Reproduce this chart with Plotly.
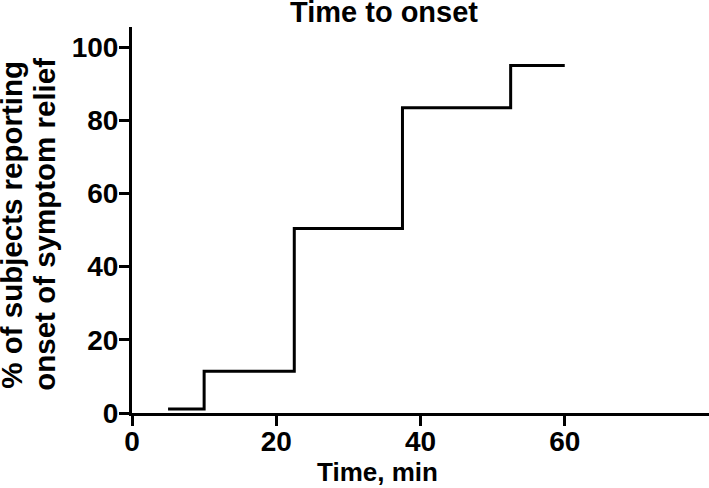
import plotly.graph_objs as go

# time to onset, step curve (min vs % of subjects)
time_min = [5, 10, 22.5, 37.5, 52.5, 60]
pct_subjects = [1.1, 11.4, 50.4, 83.4, 95.0, 95.0]

x_ticks = [0, 20, 40, 60]
y_ticks = [0, 20, 40, 60, 80, 100]

font_family = "Liberation Sans, Arial, sans-serif"

fig = go.Figure()
fig.add_trace(
    go.Scatter(
        x=time_min,
        y=pct_subjects,
        mode="lines",
        line=dict(color="black", width=3, shape="hv"),
        showlegend=False,
        hoverinfo="skip",
    )
)

fig.update_layout(
    width=709,
    height=488,
    margin=dict(l=132, r=0, t=27, b=75),
    paper_bgcolor="white",
    plot_bgcolor="white",
    font=dict(family=font_family, size=28, color="black", weight="bold"),
    title=dict(
        text="Time to onset",
        x=384 / 709,
        xref="container",
        xanchor="center",
        y=1 - 12 / 488,
        yref="container",
        yanchor="middle",
        font=dict(size=29, weight="bold"),
    ),
)

axis_style = dict(
    showgrid=False,
    zeroline=False,
    showline=True,
    linecolor="black",
    linewidth=3,
    ticks="outside",
    ticklen=10,
    tickwidth=3,
    tickcolor="black",
)
fig.update_xaxes(range=[0, 80], tickvals=x_ticks, ticklabelstandoff=-9, **axis_style)
fig.update_yaxes(range=[0, 105.5], tickvals=y_ticks, ticklabelstandoff=-5, **axis_style)

# axis titles as annotations (they are not centred on the plot area)
fig.add_annotation(
    text="Time, min",
    xref="paper", yref="paper",
    x=(377 - 132) / 577, y=-(473 - 413.5) / 386.5,
    xanchor="center", yanchor="middle",
    showarrow=False,
    font=dict(size=26, weight="bold"),
)
ytitle_lines = ["% of subjects reporting", "onset of symptom relief"]
for line_txt, cx in zip(ytitle_lines, [12, 45]):
    fig.add_annotation(
        text=line_txt,
        xref="paper", yref="paper",
        x=-(132 - cx) / 577, y=(413.5 - 225) / 386.5,
        xanchor="center", yanchor="middle",
        textangle=-90,
        showarrow=False,
        font=dict(size=29.5, weight="bold"),
    )

fig.write_html(
    "out.html",
    config={"displayModeBar": False},
    post_script="document.body.style.margin='0px';",
)
